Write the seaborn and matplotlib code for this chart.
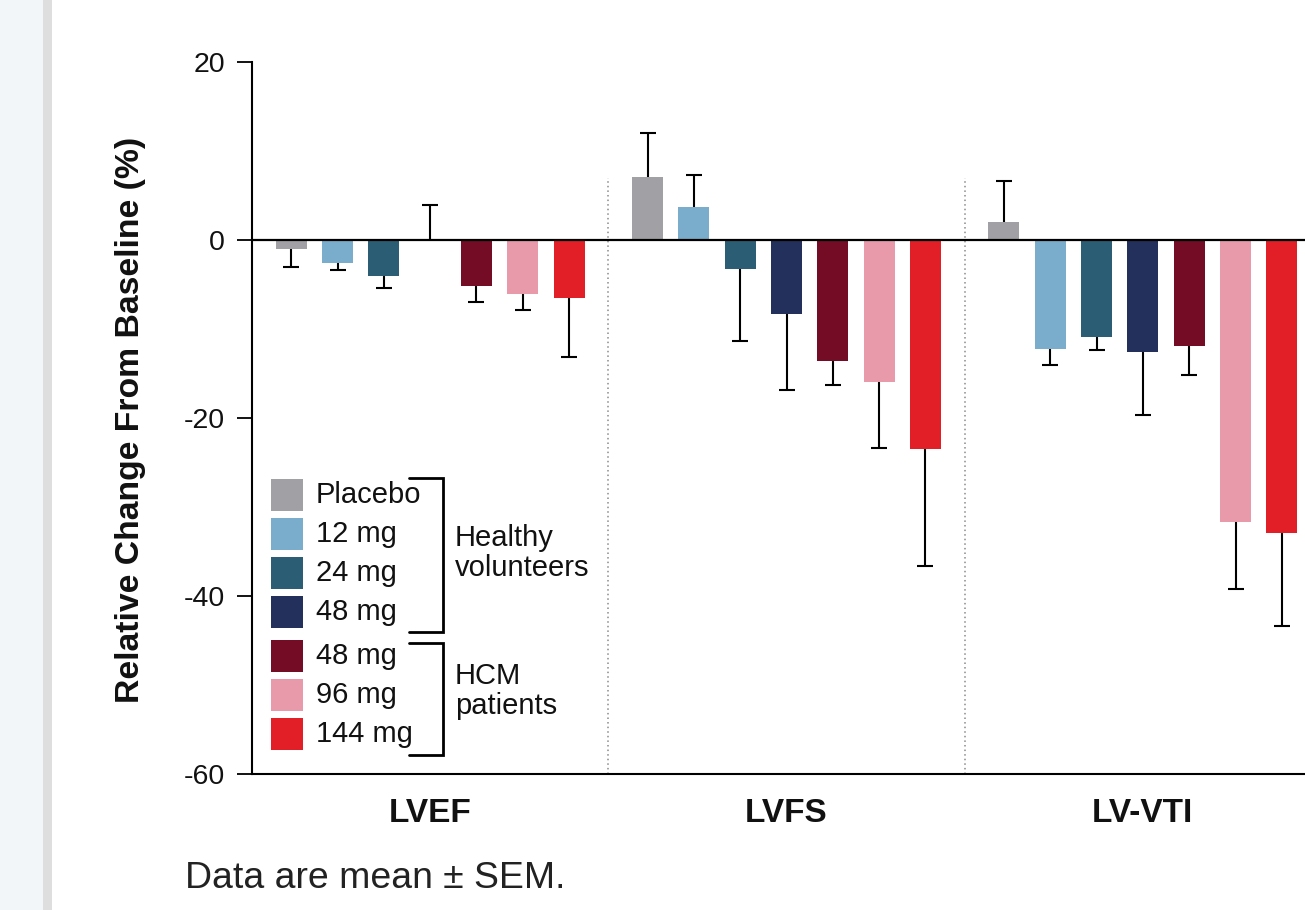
import numpy as np
import pandas as pd
import matplotlib
matplotlib.use("Agg")
import matplotlib.pyplot as plt
from matplotlib.patches import Rectangle
from matplotlib.lines import Line2D
import seaborn as sns

# ---------------- data ----------------
metrics = ["LVEF", "LVFS", "LV-VTI"]
hue_keys = ["Placebo", "HV 12 mg", "HV 24 mg", "HV 48 mg", "HCM 48 mg", "HCM 96 mg", "HCM 144 mg"]
legend_labels = ["Placebo", "12 mg", "24 mg", "48 mg", "48 mg", "96 mg", "144 mg"]
colors = ["#a1a1a5", "#7aaccb", "#2b5e75", "#22305b", "#730c24", "#e89aab", "#e21f26"]

placebo = [-1.0, 7.1, 2.0]
hv12 = [-2.6, 3.7, -12.2]
hv24 = [-4.0, -3.3, -10.9]
hv48 = [0.0, -8.3, -12.6]
hcm48 = [-5.2, -13.6, -11.9]
hcm96 = [-6.1, -16.0, -31.7]
hcm144 = [-6.5, -23.5, -32.9]

sem_placebo = [2.0, 4.9, 4.6]
sem_hv12 = [0.8, 3.6, 1.8]
sem_hv24 = [1.35, 8.05, 1.5]
sem_hv48 = [3.9, 8.5, 7.1]
sem_hcm48 = [1.8, 2.7, 3.3]
sem_hcm96 = [1.8, 7.4, 7.55]
sem_hcm144 = [6.6, 13.1, 10.5]

yticks = [20, 0, -20, -40, -60]
ytick_labels = ["20", "0", "-20", "-40", "-60"]
group_names = ["Healthy\nvolunteers", "HCM\npatients"]
footnote = "Data are mean \u00b1 SEM."
ylabel = "Relative Change From Baseline (%)"

values = [placebo, hv12, hv24, hv48, hcm48, hcm96, hcm144]
sems = [sem_placebo, sem_hv12, sem_hv24, sem_hv48, sem_hcm48, sem_hcm96, sem_hcm144]

rows = []
for k, vals, ss in zip(hue_keys, values, sems):
    for m, v, s in zip(metrics, vals, ss):
        rows.append({"metric": m, "group": k, "value": v, "sem": s})
df = pd.DataFrame(rows)

# ---------------- style ----------------
sns.set_style("ticks")
plt.rcParams["font.family"] = ["Liberation Sans", "DejaVu Sans"]

W, H = 1305, 910
fig = plt.figure(figsize=(W / 100, H / 100), dpi=100)
fig.patch.set_facecolor("white")


def fx(x):
    return x / W


def fy(y):
    return 1 - y / H


# page background decoration
fig.patches.append(Rectangle((0, 0), fx(43), 1, transform=fig.transFigure,
                             facecolor="#f2f6f9", edgecolor="none", zorder=-5))
fig.patches.append(Rectangle((fx(43), 0), fx(9), 1, transform=fig.transFigure,
                             facecolor="#dedede", edgecolor="none", zorder=-5))

ax = fig.add_axes([fx(252), fy(774), fx(1305 - 252), (774 - 62) / H])
ax.set_facecolor("none")

sns.barplot(data=df, x="metric", y="value", hue="group", order=metrics,
            hue_order=hue_keys, palette=colors, width=0.91, gap=0.33,
            errorbar=None, legend=False, saturation=1, linewidth=0, ax=ax, zorder=2)

# one-sided error bars (away from zero), drawn beneath bars
for cont, k in zip(ax.containers, hue_keys):
    sub = df[df["group"] == k].set_index("metric").loc[metrics]
    for bar, (v, s) in zip(cont, zip(sub["value"], sub["sem"])):
        xc = bar.get_x() + bar.get_width() / 2
        if v >= 0:
            yerr = [[0], [s]]
        else:
            yerr = [[s], [0]]
        eb = ax.errorbar([xc], [v], yerr=yerr, fmt="none", ecolor="black",
                         elinewidth=1.5, capsize=5.5, capthick=1.5, zorder=1)
        # hide the cap that sits at the bar end
        for cl in eb[1]:
            yd = np.asarray(cl.get_ydata(), dtype=float)
            if np.allclose(yd, v):
                cl.set_visible(False)

ax.axhline(0, color="black", lw=1.6, zorder=3)
ax.vlines([0.5, 1.5], -60, 7, colors="#8a8a8a", linestyles=(0, (1, 2)), lw=1.1, zorder=0)

ax.set_xlim(-0.5, 2.455)
ax.set_ylim(-60, 20)
ax.set_yticks(yticks)
ax.set_yticklabels(ytick_labels, fontsize=20.5)
ax.tick_params(axis="y", length=10.5, width=1.3, pad=9, color="black", labelcolor="#111111")
ax.tick_params(axis="x", length=0, pad=17)
for lab in ax.get_xticklabels():
    lab.set_fontweight("bold")
    lab.set_fontsize(24)
    lab.set_color("#111111")
ax.set_xlabel("")
ax.set_ylabel(ylabel, fontsize=24.3, fontweight="bold", color="#111111")
ax.yaxis.set_label_coords(-0.101, 0.497)

sns.despine(ax=ax, top=True, right=True)
for sp in ["left", "bottom"]:
    ax.spines[sp].set_linewidth(1.5)
    ax.spines[sp].set_color("black")

# ---------------- custom legend ----------------
row_y = [495, 534, 573, 612, 656, 695, 734]
for yy, c, lab in zip(row_y, colors, legend_labels):
    fig.patches.append(Rectangle((fx(271), fy(yy + 16)), fx(32), 32 / H,
                                 transform=fig.transFigure, facecolor=c,
                                 edgecolor="none", zorder=5))
    fig.text(fx(316), fy(yy), lab, fontsize=21, va="center", ha="left", color="#111111")


def bracket(y0, y1):
    xs = [fx(409), fx(443), fx(443), fx(409)]
    ys = [fy(y0), fy(y0), fy(y1), fy(y1)]
    fig.add_artist(Line2D(xs, ys, transform=fig.transFigure, color="black", lw=2.0,
                          solid_joinstyle="miter"))


bracket(478, 632)
bracket(643, 755)
fig.text(fx(455), fy(553), group_names[0], fontsize=21, va="center", ha="left",
         linespacing=1.12, color="#111111")
fig.text(fx(455), fy(691), group_names[1], fontsize=21, va="center", ha="left",
         linespacing=1.12, color="#111111")

fig.text(fx(185), fy(879), footnote, fontsize=26.9, va="center", ha="left", color="#222222")

fig.savefig("out.png", dpi=100)
